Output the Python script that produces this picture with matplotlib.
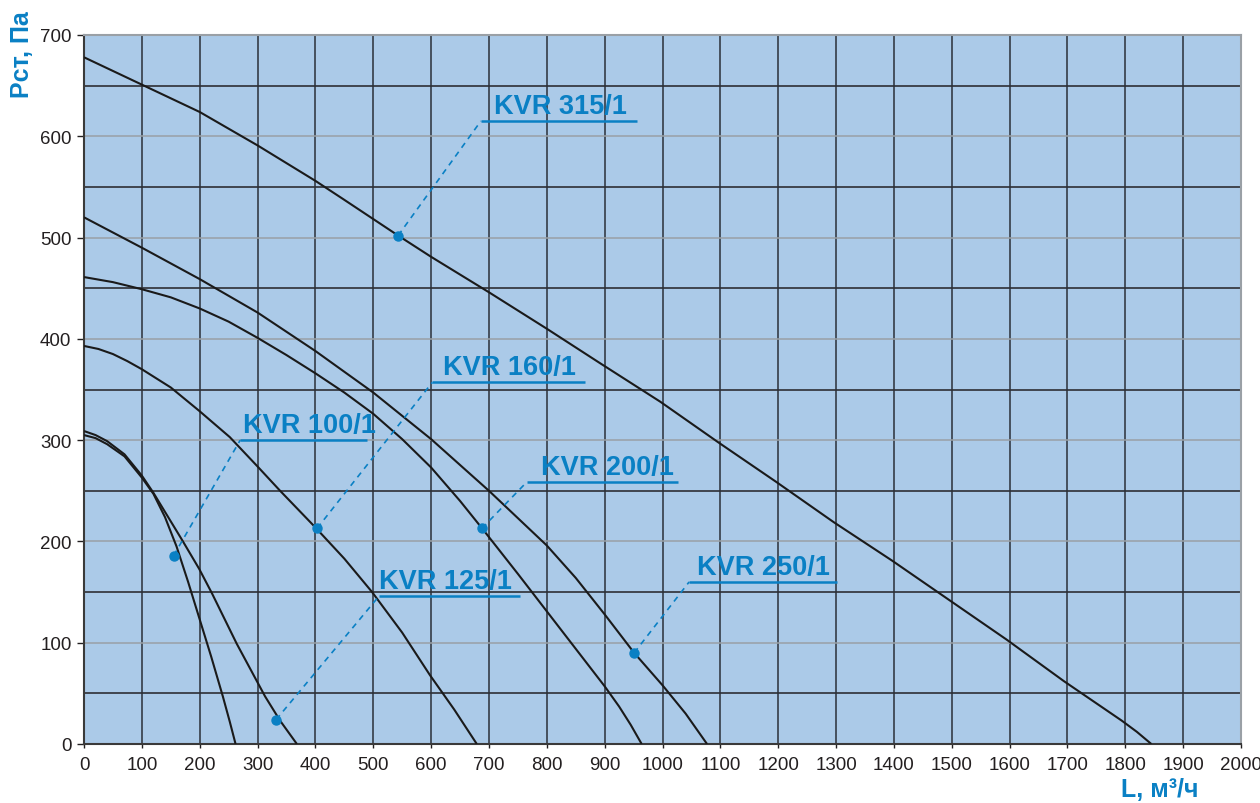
import matplotlib
matplotlib.use("Agg")
import matplotlib.pyplot as plt

# fan curves: air flow L (m3/h) vs static pressure P (Pa)
kvr100_l = [0, 20, 40, 70, 100, 120, 140, 160, 180, 200, 220, 240, 252, 262]
kvr100_p = [305, 302, 296, 284, 263, 247, 224, 195, 160, 123, 86, 47, 22, 0]

kvr125_l = [0, 20, 40, 70, 100, 120, 137, 170, 199, 221, 264, 313, 339, 368]
kvr125_p = [309, 305, 299, 286, 265, 248, 232, 201, 173, 149, 99, 47, 23, 0]

kvr160_l = [0, 25, 50, 75, 100, 150, 199, 252, 300, 339, 398, 450, 498, 550, 598, 640, 679]
kvr160_p = [393, 390, 385, 378, 370, 352, 329, 303, 274, 250, 215, 183, 150, 110, 68, 34, 0]

kvr200_l = [0, 50, 100, 150, 200, 250, 300, 350, 400, 450, 500, 550, 600, 650,
            688, 750, 800, 850, 900, 925, 945, 957, 964]
kvr200_p = [461, 456, 449, 441, 430, 417, 401, 384, 366, 347, 326, 301, 273, 240,
            213, 168, 131, 94, 57, 37, 19, 7, 0]

kvr250_l = [0, 100, 200, 300, 400, 500, 600, 700, 800, 850, 900, 951, 1000, 1040, 1077]
kvr250_p = [520, 490, 459, 426, 388, 347, 301, 250, 196, 164, 128, 90, 58, 30, 0]

kvr315_l = [0, 100, 200, 300, 400, 448, 543, 600, 700, 800, 892, 996, 1096,
            1196, 1296, 1397, 1496, 1595, 1694, 1794, 1820, 1845]
kvr315_p = [678, 651, 624, 591, 556, 538, 502, 481, 446, 410, 376, 338, 298,
            259, 219, 181, 142, 103, 62, 23, 12, 0]

curves = [
    (kvr100_l, kvr100_p),
    (kvr125_l, kvr125_p),
    (kvr160_l, kvr160_p),
    (kvr200_l, kvr200_p),
    (kvr250_l, kvr250_p),
    (kvr315_l, kvr315_p),
]

# labels: name, marker point on curve, leader elbow, underline end, text offset
label_names = ["KVR 100/1", "KVR 125/1", "KVR 160/1", "KVR 200/1", "KVR 250/1", "KVR 315/1"]
label_points = [(155, 186), (332, 24), (403, 213), (688, 213), (951, 90), (543, 502)]
label_elbows = [(270, 300), (510, 146), (602, 357), (766, 259), (1046, 160), (686, 615)]
label_ends = [489, 754, 866, 1027, 1302, 956]
label_dx = [4, 0, 19, 24, 14, 22]

BLUE = "#0a80c4"
BG = "#abcae8"

plt.rcParams["font.family"] = ["Liberation Sans", "DejaVu Sans"]

fig = plt.figure(figsize=(12.6, 8.04), dpi=100)
ax = fig.add_axes([84 / 1260, 1 - 745 / 804, (1241 - 84) / 1260, (745 - 36) / 804])
ax.set_facecolor(BG)

ax.set_xlim(0, 2000)
ax.set_ylim(0, 700)
ax.set_xticks(range(0, 2001, 100))
ax.set_yticks(range(0, 701, 100))
ax.set_yticks(range(50, 700, 100), minor=True)

ax.grid(True, which="major", axis="x", color="#2b2f38", lw=1.1)
ax.grid(True, which="major", axis="y", color="#9aa0a6", lw=1.1)
ax.grid(True, which="minor", axis="y", color="#2d2f35", lw=1.2)
ax.set_axisbelow(True)

ax.tick_params(axis="x", which="major", length=3, width=1, pad=6,
               labelsize=13.5, colors="#231f20")
ax.tick_params(axis="y", which="major", length=5, width=1, pad=4,
               labelsize=13.5, colors="#231f20")
ax.tick_params(axis="y", which="minor", length=0)

for side in ("left", "bottom"):
    ax.spines[side].set_color("#3a3a3a")
    ax.spines[side].set_linewidth(1.5)
for side in ("top", "right"):
    ax.spines[side].set_color("#9aa0a6")
    ax.spines[side].set_linewidth(1.5)

for l, p in curves:
    ax.plot(l, p, color="#1a1a1a", lw=1.5, zorder=3, solid_capstyle="butt",
            solid_joinstyle="round")

for name, pt, elb, end, dx in zip(label_names, label_points, label_elbows,
                                  label_ends, label_dx):
    ax.plot([pt[0], elb[0]], [pt[1], elb[1]], color=BLUE, lw=1.2,
            ls=(0, (3.5, 3)), zorder=4)
    ax.plot([elb[0], end], [elb[1], elb[1]], color=BLUE, lw=1.8, zorder=4,
            solid_capstyle="butt")
    ax.plot(pt[0], pt[1], "o", color=BLUE, ms=6.5, zorder=5)
    ax.text(elb[0] + dx, elb[1] + 8, name, color=BLUE, fontsize=19.5,
            fontweight="bold", ha="left", va="baseline", zorder=5)

fig.text(22 / 1260, 1 - 55 / 804, "Рст, Па", color=BLUE, fontsize=18,
         fontweight="bold", rotation=90, ha="center", va="center")
fig.text(1160 / 1260, 1 - 790 / 804, "L, м³/ч", color=BLUE, fontsize=18,
         fontweight="bold", ha="center", va="center")

fig.savefig("out.png", dpi=100)
plt.close(fig)
